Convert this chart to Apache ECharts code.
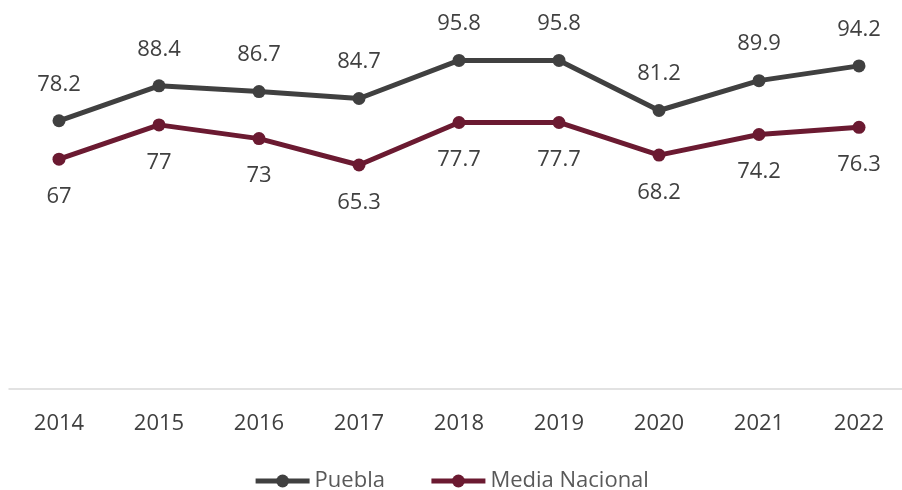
<!DOCTYPE html>
<html>
<head>
<meta charset="utf-8">
<script src="https://cdn.jsdelivr.net/npm/echarts@6/dist/echarts.min.js"></script>
<style>
  html, body { margin: 0; padding: 0; background: #ffffff; }
  #chart { width: 902px; height: 490px; }
</style>
</head>
<body>
<div id="chart"></div>
<script>
// Years on the horizontal axis
const years = ['2014', '2015', '2016', '2017', '2018', '2019', '2020', '2021', '2022'];
// Series values
const puebla = [78.2, 88.4, 86.7, 84.7, 95.8, 95.8, 81.2, 89.9, 94.2];
const mediaNacional = [67, 77, 73, 65.3, 77.7, 77.7, 68.2, 74.2, 76.3];

const FONT = '"Open Sans", "Noto Sans", sans-serif';
const TEXT = '#404040';

const chart = echarts.init(document.getElementById('chart'), null, { renderer: 'canvas' });

function lineSeries(name, data, color, labelPos, dist) {
  return {
    name: name,
    type: 'line',
    xAxisIndex: 0,
    yAxisIndex: 0,
    data: data,
    symbol: 'circle',
    symbolSize: 13,
    lineStyle: { color: color, width: 5 },
    itemStyle: { color: color },
    label: {
      show: true,
      position: labelPos,
      distance: dist,
      color: TEXT,
      fontFamily: FONT,
      fontSize: 22
    },
    emphasis: { disabled: true },
    animation: false
  };
}

chart.setOption({
  backgroundColor: '#ffffff',
  animation: false,
  grid: [
    // plot area for the two lines (first and last year at its edges)
    { left: 59, right: 43, top: 46, bottom: 101, containLabel: false },
    // wider frame carrying the baseline across the full width
    { left: 9, right: 0, top: 46, bottom: 101, containLabel: false }
  ],
  legend: {
    top: 465,
    left: 'center',
    itemWidth: 54,
    itemHeight: 16,
    itemGap: 44,
    lineStyle: { width: 5 },
    textStyle: { color: '#595959', fontFamily: FONT, fontSize: 22 },
    data: ['Puebla', 'Media Nacional']
  },
  xAxis: [
    {
      gridIndex: 0,
      type: 'category',
      data: years,
      boundaryGap: false,
      axisLine: { show: false },
      axisTick: { show: false },
      axisLabel: { color: TEXT, fontFamily: FONT, fontSize: 22, margin: 24 }
    },
    {
      gridIndex: 1,
      type: 'category',
      data: years,
      axisLine: { show: true, lineStyle: { color: '#d9d9d9', width: 1.5 } },
      axisTick: { show: false },
      axisLabel: { show: false }
    }
  ],
  yAxis: [
    { gridIndex: 0, type: 'value', min: 0, max: 100, show: false, splitLine: { show: false } },
    { gridIndex: 1, type: 'value', min: 0, max: 100, show: false, splitLine: { show: false } }
  ],
  series: [
    lineSeries('Puebla', puebla, '#404040', 'top', 19),
    lineSeries('Media Nacional', mediaNacional, '#6b1a31', 'bottom', 20)
  ]
});
</script>
</body>
</html>
